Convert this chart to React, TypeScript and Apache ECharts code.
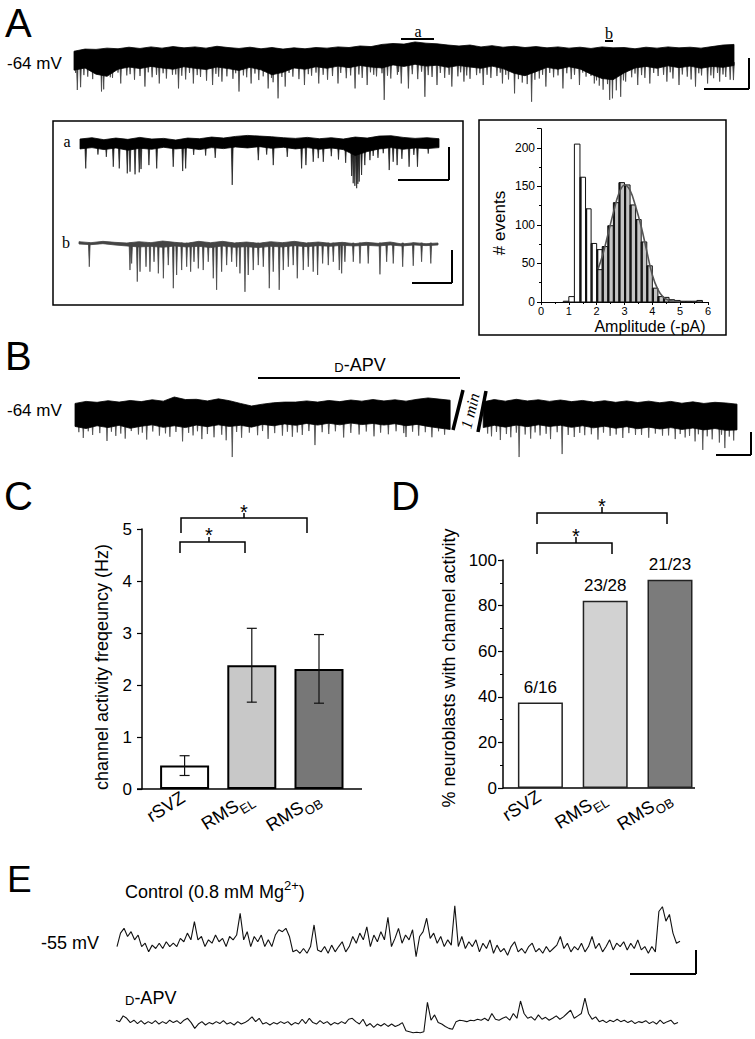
import { useEffect, useRef } from "react";
import * as echarts from "echarts";

const SANS = "'Liberation Sans', Arial, Helvetica, sans-serif";
const SERIF = "'Liberation Serif', 'Times New Roman', Times, serif";

// ---------------- Panel A : long recording (pA), envelope sampled every 2 s ----------------
const A_STEP = 2;
const traceATop = [-0.4, 0.3, 0.2, 0.6, 0.4, 0.9, 0.5, 1.0, 0.6, 1.1, 0.7, 1.0, 0.6, 1.2, 0.8, 0.5, 0.9, 0.4, 0.8, 0.3, 0.7, 0.4, 0.8, 0.6, 1.0, 0.8, 1.3, 1.1, 1.8, 2.1, 1.9, 2.6, 2.2, 2.0, 1.6, 1.3, 1.6, 1.0, 1.4, 0.9, 1.2, 0.8, 1.1, 0.7, 1.0, 0.6, 0.9, 0.5, 1.0, 0.7, 0.8, 0.4, 0.9, 0.6, 1.0, 0.7, 0.9, 0.6, 1.1, 1.6, 1.8];
const traceABottom = [-6.5, -5.8, -7.8, -8.5, -6.2, -5.5, -6.0, -5.3, -5.8, -6.2, -5.4, -5.9, -6.3, -5.5, -6.0, -6.6, -5.6, -6.4, -8.0, -7.2, -5.8, -6.2, -5.4, -5.9, -5.2, -5.7, -5.0, -5.5, -5.8, -4.8, -5.3, -4.6, -5.2, -4.9, -5.6, -5.0, -5.5, -5.9, -5.2, -6.0, -7.5, -8.3, -7.0, -5.6, -6.2, -5.4, -6.1, -7.8, -9.2, -9.6, -7.4, -5.8, -5.3, -5.9, -5.1, -5.7, -5.2, -5.9, -5.3, -5.6, -5.0];
const traceASpikes = [
  [0.6, -12.9], [1.2, -12.0], [5.0, -13.4], [5.4, -12.7], [8.5, -10.8], [12.9, -11.8], [15.5, -10.8], [19.0, -12.4], [21.7, -10.8], [25.2, -11.3], [26.9, -10.2], [30.0, -13.4], [32.2, -10.8], [35.3, -12.4], [37.1, -15.6], [38.4, -11.8], [41.9, -11.3], [44.5, -10.8], [48.0, -10.8], [51.1, -12.4], [53.3, -11.3], [56.4, -16.1], [59.5, -10.8], [60.8, -12.4], [63.8, -15.1], [66.0, -11.3], [68.7, -11.8], [70.9, -10.2], [74.4, -11.3], [77.9, -10.8], [80.1, -14.0], [83.2, -16.7], [85.8, -11.8], [88.9, -12.4], [91.9, -11.3], [94.6, -10.8], [97.4, -16.1], [97.9, -15.6], [99.4, -15.1], [102.5, -11.3], [104.7, -10.8], [107.8, -10.2], [110.0, -11.3], [113.0, -11.8], [115.2, -10.8], [117.4, -10.2], [119.9, -9.7],
  [2.5, -8.6], [3.4, -9.4], [7.0, -9.0], [9.6, -8.2], [11.0, -9.6], [14.2, -8.8], [16.8, -9.2], [17.9, -8.0], [20.3, -9.5], [23.0, -8.7], [24.1, -9.9], [27.8, -8.5], [28.9, -9.3], [31.4, -8.8], [33.6, -9.7], [36.2, -10.4], [39.8, -8.6], [40.9, -9.4], [43.2, -8.3], [46.1, -9.6], [47.0, -8.4], [49.5, -9.1], [50.3, -8.2], [52.4, -9.0], [55.0, -8.5], [57.6, -9.2], [58.8, -8.0], [62.5, -9.4], [65.1, -8.7], [67.4, -9.0], [69.8, -8.5], [72.0, -9.3], [73.2, -8.1], [75.8, -9.0], [76.9, -8.4], [79.0, -9.5], [81.5, -10.5], [82.4, -11.0], [84.6, -9.2], [87.2, -8.8], [90.4, -9.4], [93.1, -8.6], [95.5, -11.5], [96.2, -12.8], [98.6, -13.0], [100.3, -10.2], [101.4, -8.8], [103.8, -9.0], [106.2, -8.4], [108.9, -9.2], [111.5, -8.6], [112.2, -9.5], [114.1, -8.2], [116.3, -9.1], [118.5, -8.7], [119.3, -9.6],
  [0.3, -7.4], [1.8, -8.1], [4.2, -7.6], [6.1, -7.9], [6.6, -8.8], [8.0, -7.3], [10.2, -7.8], [12.0, -8.4], [13.5, -7.2], [15.0, -8.0], [16.2, -7.5], [18.5, -7.9], [19.6, -8.3], [21.0, -7.4], [22.4, -8.1], [25.8, -7.7], [26.3, -8.6], [29.4, -7.5], [30.8, -8.2], [32.9, -7.6], [34.4, -8.5], [35.9, -9.0], [37.8, -8.7], [39.1, -7.4], [42.6, -7.8], [44.0, -7.3], [45.3, -8.0], [48.5, -7.4], [51.8, -7.9], [53.9, -7.2], [54.5, -8.0], [56.0, -7.5], [57.0, -8.3], [59.0, -7.1], [61.5, -7.8], [63.2, -7.0], [64.4, -8.1], [66.6, -7.4], [68.2, -8.0], [70.3, -7.2], [71.4, -8.2], [73.8, -7.5], [75.1, -8.0], [77.5, -7.3], [78.5, -8.0], [80.8, -9.4], [83.8, -9.6], [85.2, -8.0], [86.5, -7.4], [88.0, -8.2], [89.6, -7.5], [91.0, -8.0], [92.5, -7.3], [94.0, -8.4], [95.0, -9.8], [97.0, -11.0], [99.9, -9.8], [102.0, -7.6], [103.2, -8.1], [105.4, -7.4], [107.2, -8.0], [108.4, -7.2], [110.6, -7.9], [113.6, -7.5], [115.8, -8.2], [117.0, -7.4], [118.0, -7.9],
];

// ---------------- Inset a / b (pA), envelope sampled every 1 s ----------------
const INSET_STEP = 1;
const insetATop = [1.2, 1.6, 1.0, 1.5, 1.1, 1.7, 1.2, 1.4, 0.9, 1.5, 1.3, 1.8, 1.5, 2.0, 2.3, 2.1, 1.9, 1.6, 1.4, 1.7, 1.3, 1.6, 1.2, 1.8, 1.5, 2.1, 2.2, 1.7, 1.4, 1.6, 1.3];
const insetABottom = [-1.8, -1.4, -2.0, -1.5, -2.2, -1.6, -1.9, -1.3, -1.8, -1.5, -2.0, -1.4, -1.7, -1.2, -1.5, -1.1, -1.6, -1.3, -1.8, -1.4, -1.9, -1.5, -2.0, -3.8, -2.6, -1.8, -1.4, -1.9, -1.5, -1.7, -1.4];
const insetASpikes = [
  [0.48, -7.7], [2.78, -7.2], [3.28, -7.7], [3.95, -9.2], [4.18, -8.7], [4.6, -9.5], [4.95, -8.9], [5.1, -7.9], [5.76, -6.7], [6.41, -7.7], [7.79, -7.2], [8.58, -8.5], [8.83, -7.7], [12.72, -12.7], [14.9, -5.2], [16.15, -6.7], [17.32, -4.2], [18.52, -7.7], [18.88, -6.7], [19.49, -5.7], [19.91, -4.6], [20.33, -5.7],
  [22.7, -10.0], [22.83, -12.2], [22.97, -13.0], [23.12, -13.7], [23.22, -12.4], [23.33, -11.7], [23.53, -9.7], [23.8, -6.7], [24.23, -5.2], [24.5, -3.9],
  [25.34, -3.1], [25.84, -8.2], [26.17, -5.7], [26.5, -6.7], [27.5, -7.2], [28.2, -7.2],
  [1.5, -3.5], [2.2, -4.2], [9.5, -3.6], [10.5, -3.8], [11.3, -4.5], [15.6, -3.5], [21.0, -4.0], [21.6, -5.0], [22.2, -6.0], [24.9, -4.5], [26.9, -4.8], [27.9, -3.6], [29.1, -3.2],
];
const insetBTop = [0.4, 0.1, 0.5, 0.2, 0.0, 0.4, 0.1, 0.6, 0.2, -0.1, 0.5, 0.1, 0.5, 0.0, 0.3, -0.1, 0.4, 0.1, 0.5, 0.0, 0.3, -0.1, 0.2, -0.2, 0.2, -0.1, 0.3, -0.3, 0.1, -0.2, 0.0];
const insetBBottom = [-0.3, -0.5, -0.2, -0.6, -0.9, -1.2, -1.0, -1.3, -0.9, -1.2, -1.0, -1.4, -0.9, -1.3, -1.1, -1.4, -1.0, -1.2, -0.8, -1.1, -0.8, -1.0, -0.7, -0.9, -0.7, -0.9, -0.6, -0.9, -0.6, -0.8, -0.6];
const insetBSpikes = [
  [0.86, -7.2], [4.26, -8.2], [4.4, -6.2], [4.87, -11.7], [5.1, -8.7], [5.6, -7.2], [5.93, -8.7], [6.27, -5.7], [6.63, -9.2], [7.05, -10.7], [7.46, -6.7], [7.88, -13.7], [8.16, -9.7], [8.58, -8.2], [9.0, -7.2], [9.33, -8.7], [9.61, -5.7], [9.97, -7.7], [10.38, -8.2], [10.8, -5.7], [11.22, -10.7], [11.5, -14.2], [11.92, -8.7], [12.34, -6.7], [12.76, -5.7], [13.17, -7.2], [13.45, -9.2], [13.87, -14.8], [14.14, -9.7], [14.56, -8.2], [14.98, -6.7], [15.4, -7.2], [15.9, -13.7], [16.23, -8.7], [16.73, -14.2], [17.07, -8.2], [17.49, -7.2], [17.9, -6.7], [18.24, -10.7], [18.74, -8.2], [19.16, -7.2], [19.57, -8.7], [19.94, -9.7], [20.36, -6.2], [20.83, -6.7], [21.25, -5.7], [21.75, -8.2], [21.95, -9.2], [22.22, -5.7], [22.92, -5.7], [23.48, -6.2], [24.17, -6.2], [25.15, -9.5], [25.71, -5.7], [26.26, -6.2], [27.05, -7.2], [27.93, -6.9], [28.63, -5.7], [29.4, -6.2],
];

// ---------------- Histogram (amplitude, -pA) ----------------
const histWhite = [[0.8, 1.0, 1], [1.0, 1.2, 7], [1.2, 1.4, 205], [1.4, 1.6, 162], [1.6, 1.8, 121], [1.8, 2.0, 76], [2.0, 2.2, 68]];
const histGray = [[2.0, 2.2, 42], [2.2, 2.4, 72], [2.4, 2.6, 99], [2.6, 2.8, 129], [2.8, 3.0, 155], [3.0, 3.2, 152], [3.2, 3.4, 126], [3.4, 3.6, 107], [3.6, 3.8, 78], [3.8, 4.0, 47], [4.0, 4.2, 18], [4.2, 4.4, 7], [4.4, 4.6, 6], [4.6, 4.8, 3], [4.8, 5.0, 2], [5.0, 5.2, 1], [5.2, 5.4, 1], [5.4, 5.6, 1], [5.6, 5.8, 2]];
const histFit = [[2.05, 43], [2.2, 59], [2.4, 87], [2.6, 116], [2.8, 141], [3.0, 152], [3.2, 145], [3.4, 124], [3.6, 98], [3.8, 66], [4.0, 35], [4.2, 16], [4.4, 6], [4.6, 2], [4.8, 1], [5.0, 0.3]];
const histXTicks = [0, 1, 2, 3, 4, 5, 6];

// ---------------- Panel B (pA), envelope sampled every 2 s; break between segments ----------------
const B_STEP = 2;
const B_SEG2_START = 74;
const bSeg1Top = [-1.5, -0.6, -1.0, -0.3, -0.9, -0.2, -0.7, 0.1, -0.5, 1.3, 0.2, 0.3, -0.4, 0.5, -0.3, -1.5, -2.6, -1.8, -1.2, -0.9, -0.9, -0.4, -0.9, -0.2, -0.7, 0.0, -0.5, 0.2, -0.4, 0.1, -0.5, 0.3, 0.9, 0.4, -0.1];
const bSeg1Bottom = [-11.5, -12.4, -11.2, -12.0, -11.0, -12.3, -11.4, -10.8, -11.9, -11.2, -12.0, -10.9, -11.6, -10.8, -11.5, -11.0, -11.8, -10.6, -11.2, -10.4, -11.0, -10.2, -10.9, -10.1, -10.8, -10.0, -10.7, -10.2, -10.9, -10.3, -11.2, -10.6, -11.5, -12.2, -12.8];
const bSeg2Top = [-0.8, 0.2, -0.5, 0.3, -0.4, 0.1, -0.6, 0.0, -0.7, -0.2, -0.9, -0.3, -1.0, -0.4, -1.1, -0.5, -1.2, -0.6, -1.4, -0.8, -1.5, -1.0, -1.3, -1.8];
const bSeg2Bottom = [-12.0, -11.0, -11.8, -10.9, -11.6, -10.8, -11.5, -11.0, -11.9, -11.2, -12.1, -11.4, -12.3, -11.6, -12.5, -11.8, -12.6, -12.0, -12.8, -12.2, -13.0, -12.4, -13.2, -13.0];
const bSpikes = [
  [28.5, -24.8], [43.5, -19.6], [60.0, -16.1], [80.5, -24.8], [88.3, -23.5], [113.8, -21.7], [117.8, -20.9],
  [1.5, -16.5], [3.2, -15.2], [5.8, -17.8], [7.4, -15.6], [9.1, -16.8], [11.5, -15.0], [13.0, -17.2], [15.3, -15.5], [17.2, -16.0], [19.5, -18.0], [21.4, -15.4], [23.0, -17.0], [25.2, -16.2], [26.6, -15.1], [27.4, -17.5], [30.2, -16.4], [33.1, -15.3], [35.0, -16.9], [37.6, -15.5], [39.4, -16.0], [41.2, -15.2], [46.0, -14.8], [48.7, -16.3], [51.5, -15.0], [54.2, -15.8], [56.8, -14.9], [62.3, -15.5], [64.7, -16.2], [67.0, -15.1],
  [75.5, -15.8], [77.1, -17.4], [79.0, -16.2], [82.6, -16.8], [84.3, -15.4], [86.2, -17.0], [90.5, -16.1], [92.4, -15.3], [94.8, -17.2], [97.0, -15.6], [99.3, -16.5], [101.6, -15.2], [104.0, -16.4], [106.5, -15.5], [108.8, -17.0], [110.6, -16.3], [112.4, -18.0], [115.5, -17.1], [116.8, -18.5], [119.4, -17.6],
  [0.7, -14.0], [2.4, -13.6], [4.5, -14.4], [6.6, -13.8], [8.3, -14.6], [10.2, -13.5], [12.2, -14.2], [14.1, -13.7], [16.4, -14.5], [18.3, -13.9], [20.6, -14.3], [22.2, -13.6], [24.0, -14.8], [29.3, -13.9], [31.6, -14.2], [34.0, -13.5], [36.2, -14.4], [38.5, -13.8], [40.3, -14.1], [42.4, -13.5], [44.8, -14.0], [47.2, -13.6], [50.0, -14.3], [52.8, -13.7], [55.4, -14.2], [58.2, -13.6], [59.6, -14.4], [61.2, -13.8], [63.5, -14.0], [65.9, -13.6],
  [74.8, -14.6], [76.4, -13.9], [78.2, -14.8], [80.0, -14.2], [81.6, -15.0], [83.4, -14.1], [85.4, -14.7], [87.4, -14.0], [89.4, -15.2], [91.5, -14.3], [93.6, -14.9], [95.8, -14.2], [98.1, -15.0], [100.4, -14.4], [102.7, -15.2], [105.2, -14.6], [107.6, -15.4], [109.7, -14.8], [111.4, -15.6], [113.0, -14.9], [114.6, -15.8], [117.2, -15.1], [118.6, -15.9],
];

// ---------------- Panel C ----------------
const cCategories = ["rSVZ", "RMS_EL", "RMS_OB"];
const cMean = [0.45, 2.38, 2.31];
const cSem = [0.19, 0.71, 0.66];
const cColors = ["#ffffff", "#c8c8c8", "#777777"];
const cTicks = [0, 1, 2, 3, 4, 5];

// ---------------- Panel D ----------------
const dCategories = ["rSVZ", "RMS_EL", "RMS_OB"];
const dPercent = [37.5, 82.1, 91.3];
const dCounts = ["6/16", "23/28", "21/23"];
const dColors = ["#ffffff", "#d2d2d2", "#7b7b7b"];

// ---------------- Panel E (mV relative to holding), uniform samples ----------------
const eControl = [0.3, 3.1, 4.1, 2.4, 3.4, 1.7, 2.7, 0.3, 1.0, -0.8, 0.6, -0.1, 1.0, -0.1, 1.3, 0.3, 1.0, 0.3, 2.0, 1.3, 3.1, 1.7, 5.5, 1.7, 2.4, 0.3, 1.7, 1.0, 2.7, 1.3, 2.0, 0.3, 2.4, 1.7, 2.7, 7.2, 1.7, 3.4, 0.3, 2.4, 1.3, 2.7, 0.3, 1.7, 0.3, 2.7, 3.8, 3.4, 4.1, 2.4, -0.8, -0.4, -1.1, -0.1, -1.1, 0.3, 4.8, -0.4, -0.8, 0.3, -1.1, 0.6, -0.8, 0.3, 1.3, -0.8, 0.3, 2.4, 1.0, 3.1, 1.7, 4.4, 0.3, 2.7, 1.3, 3.4, 1.7, 6.4, 0.3, 2.0, 4.1, 1.0, 2.7, 1.7, 3.8, -1.8, 2.4, 3.4, 6.2, 2.0, 3.1, 1.0, 2.4, 0.3, 1.7, 0.6, 8.8, 0.3, 2.4, -0.1, 1.3, 0.3, 1.7, -0.8, 1.0, -0.1, 1.7, -1.1, 0.6, -0.8, -0.1, -1.5, 0.3, 1.3, -0.8, -0.1, -1.1, 0.3, 1.0, -0.8, -0.1, -1.1, 0.3, -0.8, -0.1, 0.6, 2.4, -0.1, 1.0, -0.8, 0.3, -0.4, 1.0, -0.8, 0.3, 2.4, -0.1, 1.0, -0.8, 0.3, 1.7, -0.4, 1.0, 0.3, 1.3, -0.4, 1.0, -0.1, 1.7, -0.4, 0.3, -1.1, 0.3, -0.8, 7.6, 8.6, 5.6, 7.0, 3.1, 1.0, 1.4];
const eDapv = [1.0, 0.7, 1.9, 1.4, 0.5, 1.0, 0.3, 0.9, 0.2, 0.7, 0.3, 0.9, 0.2, 0.7, 0.3, 1.0, 0.5, 0.9, 0.3, 1.0, 1.4, 0.5, -0.7, 0.2, 0.7, 0.0, 0.5, 0.2, 0.7, 0.3, 0.9, 0.2, 0.5, 0.0, 0.7, 0.2, 0.5, 1.0, 1.7, 0.7, 1.4, 0.2, 0.5, 0.0, 0.5, 0.2, 0.7, 0.3, 0.7, 0.0, 0.5, 0.2, 1.2, 0.3, 1.4, 0.5, 0.2, 0.9, 0.3, 0.7, 0.0, 0.5, 0.2, 0.7, 0.3, 1.2, 1.4, 0.7, 0.2, 1.2, -0.2, 0.3, -0.5, 0.2, -0.2, 0.3, -0.3, 0.2, -0.3, 0.0, 0.5, -1.2, -1.4, -1.6, -1.5, -1.6, -1.4, 4.7, 1.0, 2.1, 0.5, 0.2, -0.3, -0.7, -0.9, 0.7, 1.0, 0.9, 0.7, 1.0, 0.9, 1.2, 1.0, 1.4, 0.9, 2.4, 1.2, 1.0, 1.4, 1.7, 1.0, 2.4, 1.4, 5.0, 2.4, 1.4, 1.7, 1.0, 2.1, 1.2, 1.6, 1.0, 1.4, 1.9, 1.2, 1.7, 2.4, 3.1, 1.4, 1.9, 2.4, 5.6, 2.4, 1.2, 1.7, 0.7, 1.0, 0.5, 1.0, 0.7, 1.2, 0.7, 1.0, 0.5, 0.9, 0.3, 0.7, 0.5, 0.9, 0.3, 0.7, 0.2, 1.0, 0.3, 0.7, 1.0, 0.2, 0.5];

// ---------------- helpers ----------------
const toPairs = (vals: number[], step: number, start = 0) => vals.map((v, i) => [start + i * step, v]);

function bandSeries(idx: number, top: number[][], bottom: number[][], color: string) {
  return {
    type: "custom",
    coordinateSystem: "cartesian2d",
    xAxisIndex: idx,
    yAxisIndex: idx,
    silent: true,
    data: [[top[0][0], top[0][1]]],
    renderItem: (_p: any, api: any) => {
      const pts = top.map((p) => api.coord(p)).concat(bottom.slice().reverse().map((p) => api.coord(p)));
      return { type: "polygon", shape: { points: pts }, style: { fill: color, stroke: color, lineWidth: 0.8 } };
    },
  };
}

function spikeSeries(idx: number, data: number[][], from: number, color: string, half: number) {
  return {
    type: "custom",
    coordinateSystem: "cartesian2d",
    xAxisIndex: idx,
    yAxisIndex: idx,
    silent: true,
    encode: { x: 0, y: 1 },
    data,
    renderItem: (_p: any, api: any) => {
      const t = api.value(0);
      const v = api.value(1);
      const a = api.coord([t, from]);
      const b = api.coord([t, v]);
      return {
        type: "polygon",
        shape: { points: [[a[0] - half, a[1]], [b[0], b[1]], [a[0] + half, a[1]]] },
        style: { fill: color, stroke: color, lineWidth: 0.7 },
      };
    },
  };
}

function histSeries(data: number[][], fill: string, stripe: boolean) {
  return {
    type: "custom",
    coordinateSystem: "cartesian2d",
    xAxisIndex: 3,
    yAxisIndex: 3,
    silent: true,
    encode: { x: [0, 1], y: 2 },
    data,
    renderItem: (_p: any, api: any) => {
      const x0 = api.value(0);
      const x1 = api.value(1);
      const c = api.value(2);
      const p0 = api.coord([x0, c]);
      const p1 = api.coord([x1, 0]);
      const w = p1[0] - p0[0];
      const h = p1[1] - p0[1];
      const children: any[] = [
        { type: "rect", shape: { x: p0[0], y: p0[1], width: w, height: h }, style: { fill, stroke: "#111", lineWidth: 1 } },
      ];
      if (stripe && x0 >= 1.4 && c > 3) {
        children.push({ type: "rect", shape: { x: p0[0], y: p0[1], width: w * 0.3, height: h }, style: { fill: "#111" } });
      }
      return { type: "group", children };
    },
  };
}

const L = (x1: number, y1: number, x2: number, y2: number, w = 1.5, c = "#000") => ({
  type: "line",
  silent: true,
  shape: { x1, y1, x2, y2 },
  style: { stroke: c, lineWidth: w },
});
const T = (x: number, y: number, text: string, o: any = {}) => ({
  type: "text",
  silent: true,
  x,
  y,
  rotation: o.rotation || 0,
  style: {
    text,
    fill: "#000",
    fontSize: o.size || 17,
    fontFamily: o.family || SANS,
    fontStyle: o.style || "normal",
    align: o.align || "left",
    verticalAlign: "middle",
    rich: o.rich,
  },
});
const PL = (pts: number[][], w = 1.5) => ({
  type: "polyline",
  silent: true,
  shape: { points: pts },
  style: { stroke: "#000", lineWidth: w, fill: null },
});

const catRich = {
  m: { fontSize: 18, fontFamily: SANS, color: "#000", lineHeight: 23, verticalAlign: "top" },
  s: { fontSize: 13, fontFamily: SANS, color: "#000", lineHeight: 13, verticalAlign: "bottom" },
};
const catFmt = (v: string) => {
  const parts = v.split("_");
  return parts.length > 1 ? `{m|${parts[0]}}{s|${parts[1]}}` : `{m|${parts[0]}}`;
};

const hiddenAxis = (gridIndex: number, min: number, max: number) => ({ gridIndex, type: "value", min, max, show: false });

function buildOption() {
  const grids = [
    { left: 74, top: 40.7, width: 660, height: 62 }, // 0 A
    { left: 80, top: 129.8, width: 359, height: 66 }, // 1 inset a
    { left: 79, top: 229.8, width: 359, height: 66 }, // 2 inset b
    { left: 541, top: 128.7, width: 167, height: 173.3 }, // 3 histogram
    { left: 75, top: 390.8, width: 662, height: 69 }, // 4 B
    { left: 151, top: 529, width: 201.6, height: 260 }, // 5 C
    { left: 508, top: 560, width: 194.4, height: 228 }, // 6 D
    { left: 117, top: 900, width: 563, height: 62.4 }, // 7 E control
    { left: 116, top: 977, width: 562, height: 62.4 }, // 8 E D-APV
  ].map((g) => ({ ...g, outerBoundsMode: "none", containLabel: false }));

  const axisBlack = { lineStyle: { color: "#000", width: 1.5 } };

  const xAxis: any[] = [
    hiddenAxis(0, 0, 120),
    hiddenAxis(1, 0, 30),
    hiddenAxis(2, 0, 30),
    {
      gridIndex: 3, type: "value", min: 0, max: 6, interval: 1,
      axisLine: { onZero: false, lineStyle: { color: "#000", width: 1 } },
      axisTick: { show: true, length: 3, lineStyle: { color: "#000" } },
      minorTick: { show: true, splitNumber: 2, length: 2, lineStyle: { color: "#000" } },
      axisLabel: { fontSize: 11, fontFamily: SANS, color: "#000", margin: 3, formatter: (v: number) => (histXTicks.includes(v) ? String(v) : "") },
      splitLine: { show: false },
    },
    hiddenAxis(4, 0, 120),
    {
      gridIndex: 5, type: "category", data: cCategories,
      axisLine: { show: false }, axisTick: { show: false },
      axisLabel: { rotate: 32, margin: 9, formatter: catFmt, rich: catRich },
    },
    {
      gridIndex: 6, type: "category", data: dCategories,
      axisLine: { show: false }, axisTick: { show: false },
      axisLabel: { rotate: 32, margin: 9, formatter: catFmt, rich: catRich },
    },
    hiddenAxis(7, 0, eControl.length - 1),
    hiddenAxis(8, 0, eDapv.length - 1),
  ];

  const yAxis: any[] = [
    hiddenAxis(0, -17, 3),
    hiddenAxis(1, -16, 4),
    hiddenAxis(2, -16, 4),
    {
      gridIndex: 3, type: "value", min: 0, max: 225, interval: 50,
      axisLine: { show: true, lineStyle: { color: "#000", width: 1 } },
      axisTick: { show: true, length: 4, lineStyle: { color: "#000" } },
      minorTick: { show: true, splitNumber: 2, length: 2, lineStyle: { color: "#000" } },
      axisLabel: { fontSize: 12, fontFamily: SANS, color: "#000", margin: 6, formatter: (v: number) => (v <= 200 ? String(v) : "") },
      splitLine: { show: false },
    },
    hiddenAxis(4, -26, 4),
    {
      gridIndex: 5, type: "value", min: 0, max: 5, interval: 1, offset: 9,
      axisLine: { show: true, ...axisBlack },
      axisTick: { show: true, length: 5, lineStyle: { color: "#000", width: 1.2 } },
      axisLabel: { fontSize: 17, fontFamily: SANS, color: "#000", margin: 10, formatter: (v: number) => (cTicks.includes(v) ? String(v) : "") },
      splitLine: { show: false },
    },
    {
      gridIndex: 6, type: "value", min: 0, max: 100, interval: 20, offset: 5,
      axisLine: { show: true, ...axisBlack },
      axisTick: { show: true, length: 5, lineStyle: { color: "#000", width: 1.2 } },
      minorTick: { show: true, splitNumber: 2, length: 3, lineStyle: { color: "#000", width: 1 } },
      axisLabel: { fontSize: 17, fontFamily: SANS, color: "#000", margin: 6 },
      splitLine: { show: false },
    },
    hiddenAxis(7, -3, 10),
    hiddenAxis(8, -3, 10),
  ];

  const series: any[] = [
    // A
    spikeSeries(0, traceASpikes, -4, "#3a3a3a", 0.9),
    bandSeries(0, toPairs(traceATop, A_STEP), toPairs(traceABottom, A_STEP), "#000"),
    // inset a
    spikeSeries(1, insetASpikes, 0, "#1a1a1a", 1.0),
    bandSeries(1, toPairs(insetATop, INSET_STEP), toPairs(insetABottom, INSET_STEP), "#000"),
    // inset b
    spikeSeries(2, insetBSpikes, 0, "#3c3c3c", 0.9),
    bandSeries(2, toPairs(insetBTop, INSET_STEP), toPairs(insetBBottom, INSET_STEP), "#444"),
    // histogram
    histSeries(histWhite, "#ffffff", true),
    histSeries(histGray, "#c4c4c4", true),
    {
      type: "line", xAxisIndex: 3, yAxisIndex: 3, data: histFit, smooth: 0.4, showSymbol: false, silent: true,
      lineStyle: { color: "#555", width: 1.6 },
    },
    // B
    spikeSeries(4, bSpikes, -9, "#444", 0.8),
    bandSeries(4, toPairs(bSeg1Top, B_STEP), toPairs(bSeg1Bottom, B_STEP), "#000"),
    bandSeries(4, toPairs(bSeg2Top, B_STEP, B_SEG2_START), toPairs(bSeg2Bottom, B_STEP, B_SEG2_START), "#000"),
    // C bars + error bars
    {
      type: "bar", xAxisIndex: 5, yAxisIndex: 5, barWidth: 49, silent: true,
      data: cMean.map((v, i) => ({ value: v, itemStyle: { color: cColors[i], borderColor: "#000", borderWidth: 2 } })),
    },
    {
      type: "custom", coordinateSystem: "cartesian2d", xAxisIndex: 5, yAxisIndex: 5, silent: true, z: 5,
      encode: { x: 0, y: [1, 2] },
      data: cMean.map((m, i) => [i, m - cSem[i], m + cSem[i]]),
      renderItem: (_p: any, api: any) => {
        const i = api.value(0);
        const lo = api.coord([i, api.value(1)]);
        const hi = api.coord([i, api.value(2)]);
        const w = 5;
        const st = { stroke: "#111", lineWidth: 1.2 };
        return {
          type: "group",
          children: [
            { type: "line", shape: { x1: lo[0], y1: lo[1], x2: hi[0], y2: hi[1] }, style: st },
            { type: "line", shape: { x1: lo[0] - w, y1: lo[1], x2: lo[0] + w, y2: lo[1] }, style: st },
            { type: "line", shape: { x1: hi[0] - w, y1: hi[1], x2: hi[0] + w, y2: hi[1] }, style: st },
          ],
        };
      },
    },
    // D bars
    {
      type: "bar", xAxisIndex: 6, yAxisIndex: 6, barWidth: 45, silent: true,
      data: dPercent.map((v, i) => ({ value: v, itemStyle: { color: dColors[i], borderColor: "#222", borderWidth: 1.5 } })),
      label: {
        show: true, position: "top", distance: 7, fontSize: 17, fontFamily: SANS, color: "#000",
        formatter: (p: any) => dCounts[p.dataIndex],
      },
    },
    // E
    {
      type: "line", xAxisIndex: 7, yAxisIndex: 7, data: eControl.map((v, i) => [i, v]), showSymbol: false, silent: true,
      lineStyle: { color: "#111", width: 1.1 },
    },
    {
      type: "line", xAxisIndex: 8, yAxisIndex: 8, data: eDapv.map((v, i) => [i, v]), showSymbol: false, silent: true,
      lineStyle: { color: "#111", width: 1.1 },
    },
  ];

  const dapvRich = {
    sc: { fontSize: 13, fontFamily: SANS, color: "#000", verticalAlign: "bottom", lineHeight: 14 },
    n: { fontSize: 18, fontFamily: SANS, color: "#000", verticalAlign: "bottom", lineHeight: 19 },
  };
  const mgRich = {
    n: { fontSize: 18, fontFamily: SANS, color: "#000", lineHeight: 22, verticalAlign: "bottom" },
    sup: { fontSize: 13, fontFamily: SANS, color: "#000", lineHeight: 13, verticalAlign: "top" },
  };

  const elements: any[] = [
    // panel letters
    T(5, 23, "A", { size: 40 }),
    T(5, 356, "B", { size: 40 }),
    T(4, 496, "C", { size: 40 }),
    T(391, 496, "D", { size: 40 }),
    T(7, 879, "E", { size: 37 }),
    // A
    T(7, 63, "-64 mV", { size: 17 }),
    T(418, 31, "a", { size: 16, family: SERIF, align: "center" }),
    L(401, 39, 434, 39, 2),
    T(609, 33, "b", { size: 16, family: SERIF, align: "center" }),
    L(605, 41, 613, 41, 2),
    L(749, 58, 749, 89, 2),
    L(704, 89, 749, 89, 2),
    // inset a/b box
    { type: "rect", silent: true, shape: { x: 53, y: 121, width: 410, height: 184 }, style: { fill: null, stroke: "#000", lineWidth: 1.5 } },
    T(67, 141, "a", { size: 16, family: SERIF, align: "center" }),
    T(66, 242, "b", { size: 16, family: SERIF, align: "center" }),
    L(449, 147, 449, 180, 2),
    L(398, 180, 449, 180, 2),
    L(452, 250, 452, 283, 2),
    L(412, 283, 452, 283, 2),
    // histogram box
    { type: "rect", silent: true, shape: { x: 479, y: 120, width: 247, height: 215 }, style: { fill: null, stroke: "#000", lineWidth: 1.5 } },
    T(499, 223, "# events", { size: 17, align: "center", rotation: Math.PI / 2 }),
    T(650, 326, "Amplitude (-pA)", { size: 16, align: "center" }),
    // B
    T(360, 364, "{sc|D}{n|-APV}", { size: 18, align: "center", rich: dapvRich }),
    L(258, 378, 460, 378, 2),
    T(7, 410, "-64 mV", { size: 17 }),
    L(463, 390, 453, 430, 3.5),
    L(486, 391, 478, 432, 3.5),
    T(470, 411, "1 min", { size: 16, family: SERIF, style: "italic", align: "center", rotation: 1.33 }),
    L(751, 432, 751, 455, 2),
    L(716, 455, 751, 455, 2),
    // C
    L(137, 789, 362, 789, 1.5),
    T(102, 667, "channel activity freqeuncy (Hz)", { size: 18, align: "center", rotation: Math.PI / 2 }),
    PL([[180, 553], [180, 542], [245, 542], [245, 553]]),
    L(209, 542, 209, 537, 1.5),
    T(209, 535, "*", { size: 20, align: "center" }),
    PL([[181, 533], [181, 518], [307, 518], [307, 533]]),
    L(244, 518, 244, 513, 1.5),
    T(244, 512, "*", { size: 20, align: "center" }),
    // D
    L(503, 788, 695, 788, 1.5),
    T(449, 668, "% neuroblasts with channel activity", { size: 18, align: "center", rotation: Math.PI / 2 }),
    PL([[537, 554], [537, 543], [612, 543], [612, 554]]),
    L(576, 543, 576, 537, 1.5),
    T(576, 536, "*", { size: 20, align: "center" }),
    PL([[537, 524], [537, 513], [667, 513], [667, 524]]),
    L(602, 513, 602, 507, 1.5),
    T(602, 506, "*", { size: 20, align: "center" }),
    // E
    T(125, 890, "{n|Control (0.8 mM Mg}{sup|2+}{n|)}", { size: 18, rich: mgRich }),
    T(41, 943, "-55 mV", { size: 18 }),
    T(125, 997, "{sc|D}{n|-APV}", { size: 18, rich: dapvRich }),
    L(696, 950, 696, 974, 2),
    L(630, 974, 696, 974, 2),
  ];

  return {
    animation: false,
    backgroundColor: "#ffffff",
    textStyle: { fontFamily: SANS },
    grid: grids,
    xAxis,
    yAxis,
    series,
    graphic: { elements },
  };
}

export default function App() {
  const ref = useRef<HTMLDivElement>(null);
  useEffect(() => {
    if (!ref.current) return;
    const chart = echarts.init(ref.current, null, { renderer: "svg" });
    chart.setOption(buildOption() as any);
    return () => chart.dispose();
  }, []);
  return (
    <div
      ref={ref}
      style={{ position: "absolute", left: 0, top: 0, width: 755, height: 1039, background: "#fff" }}
    />
  );
}
